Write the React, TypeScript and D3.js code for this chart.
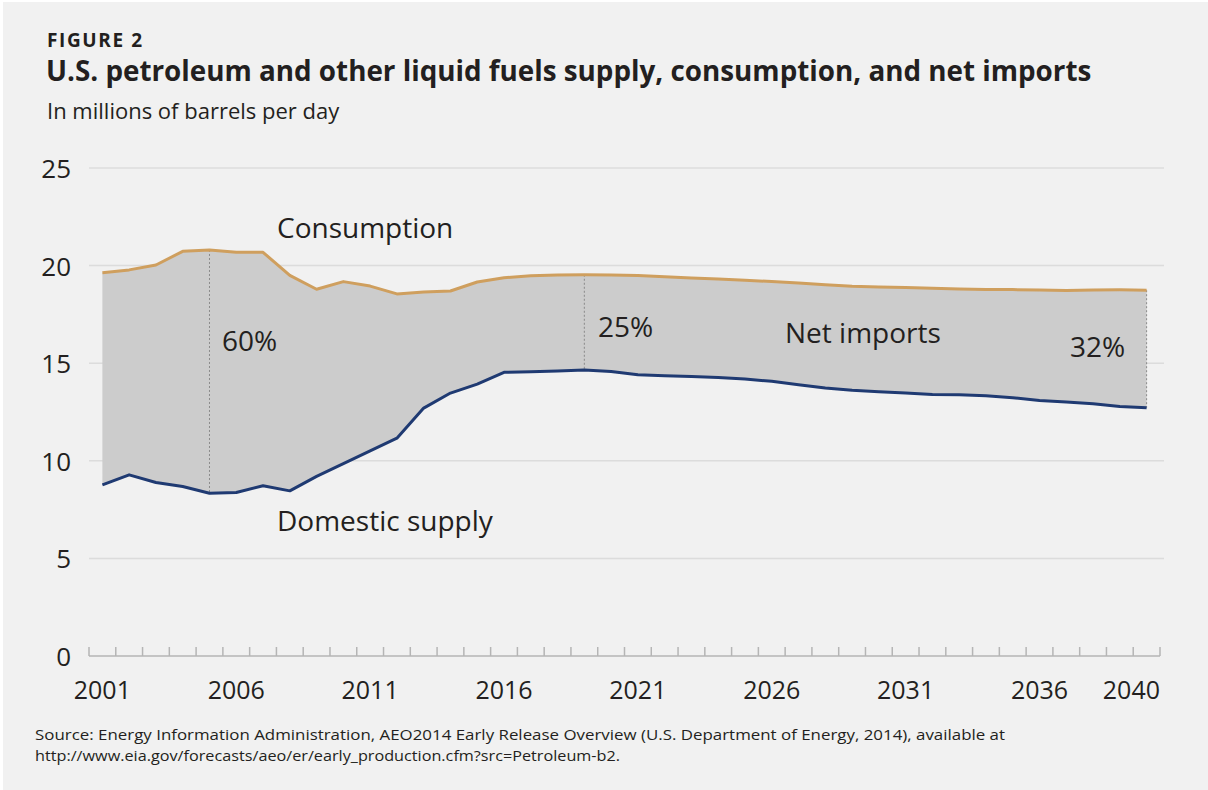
import React from 'react';
import * as d3 from 'd3';

const years = d3.range(2001, 2041);
const consumption = [
  19.63, 19.78, 20.03, 20.73, 20.8, 20.68, 20.68, 19.5, 18.79, 19.18,
  18.95, 18.55, 18.65, 18.7, 19.16, 19.38, 19.48, 19.52, 19.53, 19.52,
  19.49, 19.43, 19.37, 19.31, 19.25, 19.18, 19.11, 19.02, 18.94, 18.91,
  18.88, 18.84, 18.8, 18.78, 18.77, 18.75, 18.73, 18.75, 18.76, 18.74,
];
const domestic = [
  8.77, 9.28, 8.89, 8.68, 8.34, 8.38, 8.72, 8.46, 9.2, 9.85,
  10.51, 11.16, 12.7, 13.47, 13.93, 14.53, 14.56, 14.6, 14.65, 14.58,
  14.41, 14.36, 14.32, 14.27, 14.19, 14.07, 13.9, 13.73, 13.61, 13.54,
  13.47, 13.4, 13.38, 13.33, 13.23, 13.09, 13.01, 12.92, 12.78, 12.72,
];
const yTicks = [0, 5, 10, 15, 20, 25];
const xLabels = [2001, 2006, 2011, 2016, 2021, 2026, 2031, 2036, 2040];
const shareYears = [2005, 2019, 2040];

const W = 1208;
const H = 790;
const font = "'Open Sans', sans-serif";
const txt = '#231f20';

const App = () => {
  const x = d3.scaleBand<number>().domain(years).range([89, 1160]).padding(0);
  const cx = (yr: number) => (x(yr) as number) + x.bandwidth() / 2;
  const y = d3.scaleLinear().domain([0, 25]).range([656, 168]);

  const rows = years.map((yr, i) => ({ yr, c: consumption[i], d: domestic[i] }));

  const area = d3
    .area<{ yr: number; c: number; d: number }>()
    .x((r) => cx(r.yr))
    .y0((r) => y(r.d))
    .y1((r) => y(r.c));
  const consLine = d3
    .line<{ yr: number; c: number; d: number }>()
    .x((r) => cx(r.yr))
    .y((r) => y(r.c));
  const domLine = d3
    .line<{ yr: number; c: number; d: number }>()
    .x((r) => cx(r.yr))
    .y((r) => y(r.d));

  const tickXs = years.map((yr) => x(yr) as number).concat([x.range()[1]]);

  return (
    <div style={{ position: 'absolute', left: 0, top: 0 }}>
      <svg width={W} height={H} style={{ display: 'block' }} fontFamily={font}>
        <rect x={0} y={0} width={W} height={H} fill="#ffffff" />
        <rect x={3} y={2} width={W - 3} height={H - 2} fill="#f1f1f1" />

        <text x={47} y={47} fontSize={19} fontWeight="bold" letterSpacing={1.6} fill={txt}>FIGURE 2</text>
        <text x={46} y={81} fontSize={27.8} fontWeight="bold" fill={txt}>
          U.S. petroleum and other liquid fuels supply, consumption, and net imports
        </text>
        <text x={47} y={119} fontSize={22} fill={txt}>In millions of barrels per day</text>

        {/* gridlines */}
        {yTicks.filter((v) => v > 0).map((v) => (
          <line key={v} x1={89} x2={1164} y1={y(v)} y2={y(v)} stroke="#dcdcdc" strokeWidth={1.5} />
        ))}
        {yTicks.map((v) => (
          <text key={v} x={71} y={y(v) + 10} textAnchor="end" fontSize={26} fill={txt}>
            {v}
          </text>
        ))}

        <path d={area(rows) as string} fill="#cccccc" />

        {shareYears.map((yr) => {
          const i = years.indexOf(yr);
          return (
            <line
              key={yr}
              x1={cx(yr)}
              x2={cx(yr)}
              y1={y(consumption[i])}
              y2={y(domestic[i])}
              stroke="#8a8a8a"
              strokeWidth={1}
              strokeDasharray="2,2"
            />
          );
        })}

        <path d={consLine(rows) as string} fill="none" stroke="#cf9f5e" strokeWidth={3} strokeLinejoin="round" />
        <path d={domLine(rows) as string} fill="none" stroke="#1f3a72" strokeWidth={3} strokeLinejoin="round" />

        {/* x axis */}
        <line x1={89} x2={1160} y1={656} y2={656} stroke="#b5b5b5" strokeWidth={1.5} />
        {tickXs.map((tx, i) => (
          <line key={i} x1={tx} x2={tx} y1={647} y2={656} stroke="#b5b5b5" strokeWidth={1.5} />
        ))}
        {xLabels.map((yr, i) => (
          <text
            key={yr}
            x={i === xLabels.length - 1 ? 1160 : cx(yr)}
            y={699}
            textAnchor={i === xLabels.length - 1 ? 'end' : 'middle'}
            fontSize={25}
            fill={txt}
          >
            {yr}
          </text>
        ))}

        {/* annotations */}
        <text x={277} y={238} fontSize={28} fill={txt}>Consumption</text>
        <text x={277} y={531} fontSize={28} fill={txt}>Domestic supply</text>
        <text x={222} y={351} fontSize={28} fill={txt}>60%</text>
        <text x={598} y={337} fontSize={28} fill={txt}>25%</text>
        <text x={785} y={343} fontSize={28} fill={txt}>Net imports</text>
        <text x={1070} y={357} fontSize={28} fill={txt}>32%</text>

        <text x={35} y={740} fontSize={14.5} textLength={970} lengthAdjust="spacingAndGlyphs" fill={txt}>
          Source: Energy Information Administration, AEO2014 Early Release Overview (U.S. Department of Energy, 2014), available at
        </text>
        <text x={35} y={761} fontSize={14.5} textLength={585} lengthAdjust="spacingAndGlyphs" fill={txt}>
          http://www.eia.gov/forecasts/aeo/er/early_production.cfm?src=Petroleum-b2.
        </text>
      </svg>
    </div>
  );
};

export default App;
